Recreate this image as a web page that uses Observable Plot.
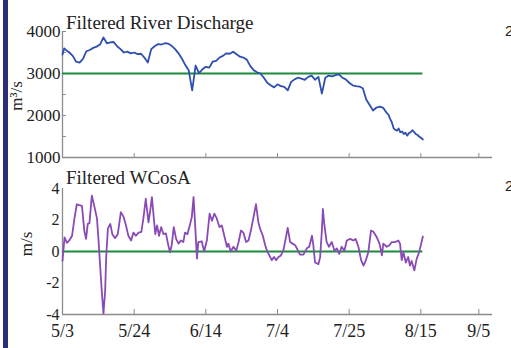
<!DOCTYPE html>
<html><head><meta charset="utf-8">
<script src="https://cdn.jsdelivr.net/npm/d3@7"></script>
<script src="https://cdn.jsdelivr.net/npm/@observablehq/plot@0.6"></script>
<style>
body{margin:0;background:#fff}
#wrap{position:relative;width:511px;height:348px;overflow:hidden;font-family:"Liberation Serif",serif;color:#222}
#bar{position:absolute;left:3px;top:0;width:5px;height:348px;background:#2b2d7c}
.panel{position:absolute;left:0}
.title{position:absolute;font-size:19px;line-height:19px;white-space:nowrap;color:#222}
.ylab{position:absolute;font-size:17px;white-space:nowrap;transform:translate(-50%,-50%) rotate(-90deg);color:#222}
.cut{position:absolute;font-family:"Liberation Sans",sans-serif;font-size:15px;color:#222}
</style></head>
<body><div id="wrap"><div id="bar"></div></div>
<script>
// x positions are days since 5/3 (plot-day units)
const tickDays = [0, 21, 42, 63, 84, 105, 122];
const tickLabels = ["5/3", "5/24", "6/14", "7/4", "7/25", "8/15", "9/5"];
const xDomain = [0, 126];

// Filtered River Discharge (m^3/s)
const qDays = [0,0.5,1,2,3,4,5,6,7,8,9,10,11,12,13,14,15,16,17,18,19,20,21,22,23,24,25,26,27,28,29,30,31,32,33,34,35,36,37,38,39,40,41,42,43,44,45,46,47,48,49,50,51,52,53,54,55,56,57,58,59,60,61,62,63,64,65,66,67,68,69,70,71,72,73,74,75,76,77,78,79,80,81,82,83,84,85,86,87,88,89,90,91,92,93,94,95,95.5,96,96.5,97,97.5,98,98.5,99,99.5,100,100.5,101,101.5,102,102.5,103,103.5,104,104.5,105,105.6];
const qVals = [3450,3600,3560,3500,3420,3280,3260,3350,3530,3560,3610,3640,3690,3860,3720,3740,3750,3650,3580,3500,3520,3480,3500,3460,3470,3380,3260,3580,3650,3700,3690,3720,3710,3660,3580,3480,3350,3200,3070,2600,3190,3010,3100,3160,3140,3280,3300,3380,3420,3480,3470,3520,3460,3400,3380,3330,3180,3080,3030,3000,2900,2780,2720,2670,2740,2700,2680,2600,2800,2860,2900,2880,2850,2920,2950,2850,2920,2520,2900,2950,2930,2960,2980,2900,2860,2780,2720,2700,2690,2650,2380,2250,2120,2190,2210,2180,2060,2020,1920,1840,1700,1660,1640,1690,1600,1620,1560,1590,1520,1580,1600,1650,1610,1560,1540,1500,1470,1430];
const qTicks = [1000, 2000, 3000, 4000];
const qTickMarks = [1000, 1500, 2000, 2500, 3000, 3500, 4000];
const qRef = 3000;

// Filtered WCosA (m/s)
const wDays = [0,0.6,1.3,2.0,2.8,3.5,4.2,4.9,5.7,6.4,6.9,7.4,7.9,8.6,9.4,10.1,10.5,11.0,11.5,12.0,12.5,12.8,13.3,14.0,14.6,15.4,16.2,17.1,17.9,18.6,19.3,20.1,20.8,21.5,22.3,23.1,23.7,24.4,25.2,25.7,26.2,26.8,27.2,27.7,28.3,28.9,29.6,30.3,31.0,31.5,32.0,32.6,33.3,34.0,34.7,35.4,35.9,36.6,37.4,37.9,38.4,38.9,39.4,39.8,40.8,41.5,42.3,43.1,43.8,44.5,45.2,46.0,46.7,47.4,48.2,48.6,49.3,50.1,50.9,51.6,52.3,53.0,53.8,54.5,55.2,55.9,56.7,57.4,57.9,58.7,59.4,59.9,60.6,61.3,62.0,62.6,63.3,64.0,64.7,65.2,66.0,66.7,67.4,68.2,69.0,69.6,70.6,71.6,72.3,73.1,73.5,74.0,75.0,75.5,76.0,76.3,76.7,77.4,78.1,78.9,79.7,80.4,81.1,81.8,82.6,83.3,84.3,85.2,85.9,86.7,87.5,88.2,88.9,89.6,90.4,91.1,92.1,92.9,93.6,94.0,95.0,95.8,96.5,97.5,98.4,98.9,99.4,99.9,100.6,101.3,101.8,102.3,103.1,103.8,104.5,105.1,105.6];
const wVals = [-0.6,0.9,0.55,0.7,1.0,2.1,3.0,2.95,2.9,1.3,0.8,1.75,1.8,3.55,2.8,2.1,0.9,-0.8,-2.5,-3.95,-2.5,-0.35,1.45,1.75,1.1,0.85,1.1,2.5,2.2,1.65,1.0,0.7,1.2,1.0,1.2,1.25,2.1,3.35,1.85,2.6,3.45,2.0,1.1,1.65,1.0,1.55,1.1,1.15,0.4,-0.05,0.4,1.55,0.8,0.5,0.7,0.6,1.2,1.1,1.75,2.2,3.45,1.55,-0.45,0.6,0.65,0.0,0.7,2.4,1.95,2.4,2.1,1.55,1.65,1.0,0.3,0.5,0.0,0.3,0.05,0.6,1.33,1.2,0.6,0.7,1.33,2.1,3.0,1.85,1.45,1.0,0.4,0.05,-0.25,-0.55,-0.35,-0.55,-0.35,-0.25,0.05,0.6,1.5,0.6,0.5,0.4,0.05,-0.2,-0.2,0.2,0.3,1.0,0.4,-0.7,-0.8,-0.35,1.33,2.7,1.75,0.6,0.3,0.6,0.05,0.2,-0.15,0.3,0.05,0.7,0.8,0.7,0.8,0.3,-0.55,-0.9,-0.55,-0.05,1.33,1.25,0.9,0.5,-0.25,0.5,0.3,0.4,0.6,0.6,0.7,0.5,-0.55,-0.05,-0.7,-0.35,-0.9,-0.6,-1.2,-0.45,-0.05,0.5,0.95];
const wTicks = [-4, -2, 0, 2, 4];
const wRef = 0;

const titles = ["Filtered River Discharge", "Filtered WCosA"];
const yLabels = ["m³/s", "m/s"];

const axisGray = "#8c8c8c";
const font = '"Liberation Serif", serif';
const qData = qDays.map((d, i) => ({day: d, v: qVals[i]}));
const wData = wDays.map((d, i) => ({day: d, v: wVals[i]}));
const lastDay = qDays[qDays.length - 1];

const topChart = Plot.plot({
  width: 511, height: 170,
  marginLeft: 62, marginRight: 19, marginTop: 31, marginBottom: 13,
  style: {fontFamily: font, fontSize: "17px", color: "#222", background: "none", overflow: "visible"},
  x: {domain: xDomain},
  y: {domain: [1000, 4000]},
  marks: [
    Plot.ruleX([0], {stroke: axisGray, strokeWidth: 1.3}),
    Plot.ruleY([1000], {stroke: axisGray, strokeWidth: 1.3}),
    Plot.axisY(qTickMarks, {tickSize: -4, fill: "none", stroke: axisGray, label: null}),
    Plot.axisY(qTicks, {tickSize: 0, tickPadding: 2, tickFormat: d => String(d), fill: "#222", fontSize: 17, label: null}),
    Plot.axisX(tickDays, {tickSize: -4, fill: "none", stroke: axisGray, label: null}),
    Plot.ruleY([qRef], {x1: 0, x2: lastDay, stroke: "#1f8a3c", strokeWidth: 2}),
    Plot.line(qData, {x: "day", y: "v", stroke: "#2f4fb0", strokeWidth: 1.8})
  ]
});

const botChart = Plot.plot({
  width: 511, height: 178,
  marginLeft: 62, marginRight: 19, marginTop: 18, marginBottom: 34,
  style: {fontFamily: font, fontSize: "17px", color: "#222", background: "none", overflow: "visible"},
  x: {domain: xDomain},
  y: {domain: [-4, 4]},
  marks: [
    Plot.ruleX([0], {stroke: axisGray, strokeWidth: 1.3}),
    Plot.ruleY([-4], {stroke: axisGray, strokeWidth: 1.3}),
    Plot.axisY(wTicks, {tickSize: 0, tickPadding: 3, tickFormat: d => String(d), fill: "#222", fontSize: 16, label: null}),
    Plot.axisX(tickDays, {tickSize: -5, fill: "none", stroke: axisGray, label: null}),
    Plot.axisX(tickDays, {tickSize: 0, tickPadding: 10, tickFormat: d => tickLabels[tickDays.indexOf(d)], fill: "#222", fontSize: 18, label: null}),
    Plot.ruleY([wRef], {x1: 0, x2: lastDay, stroke: "#1f8a3c", strokeWidth: 2}),
    Plot.line(wData, {x: "day", y: "v", stroke: "#8a4ab5", strokeWidth: 1.8})
  ]
});

const wrap = document.getElementById("wrap");
topChart.classList.add("panel"); topChart.style.top = "0px";
botChart.classList.add("panel"); botChart.style.top = "170px";
wrap.appendChild(topChart);
wrap.appendChild(botChart);

function addDiv(cls, text, css) {
  const el = document.createElement("div");
  el.className = cls; el.textContent = text;
  Object.assign(el.style, css);
  wrap.appendChild(el);
}
addDiv("title", titles[0], {left: "66px", top: "13px"});
addDiv("title", titles[1], {left: "66px", top: "168px"});
addDiv("ylab", yLabels[0], {left: "17px", top: "96px"});
addDiv("ylab", yLabels[1], {left: "27px", top: "244px"});
addDiv("cut", "2", {left: "505px", top: "22px"});
addDiv("cut", "2", {left: "505px", top: "177px"});
</script>
</body></html>
